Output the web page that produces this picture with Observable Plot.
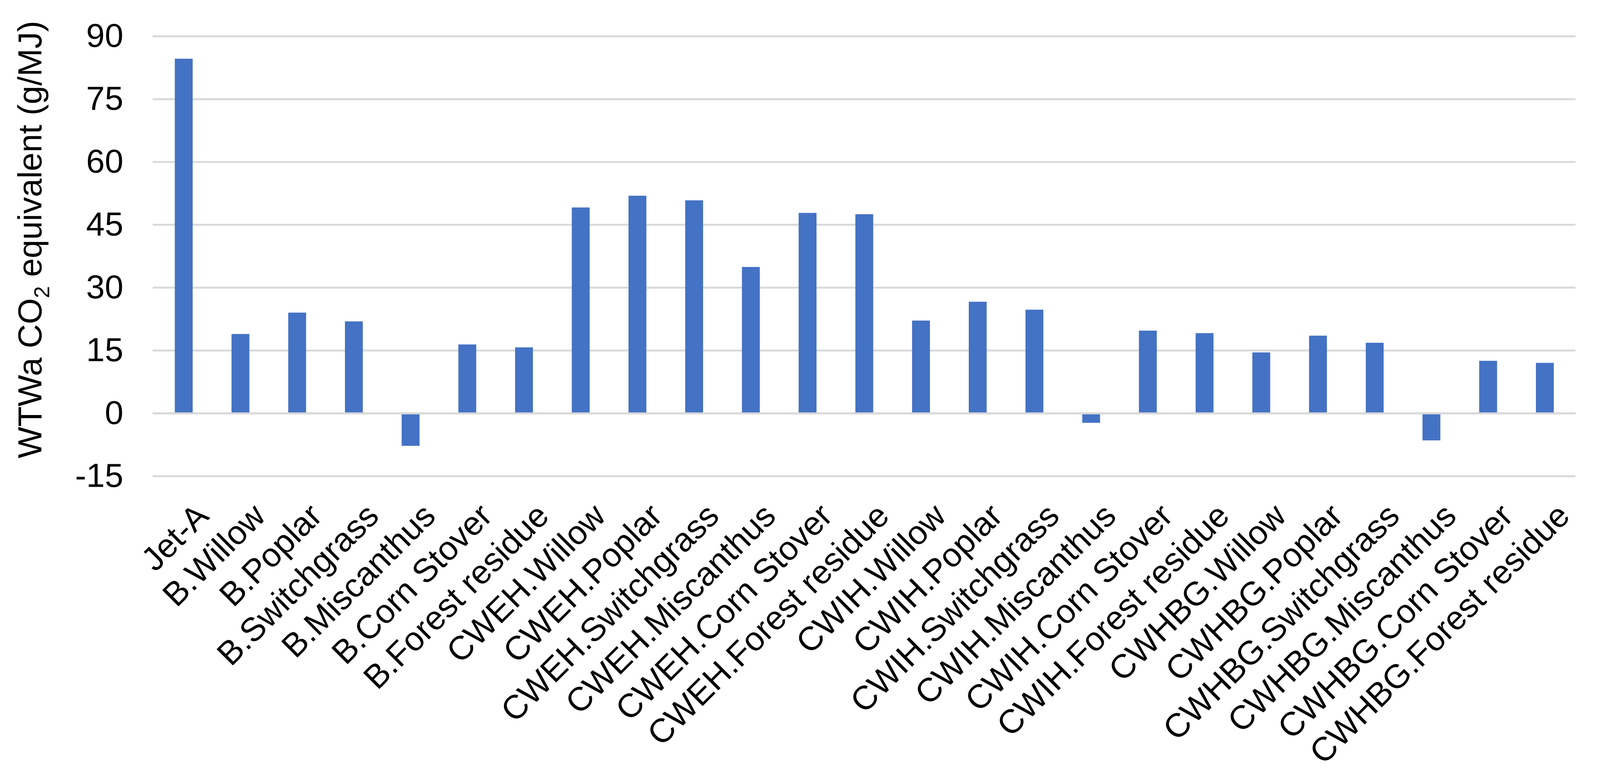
<!DOCTYPE html>
<html>
<head>
<meta charset="utf-8">
<script src="https://cdn.jsdelivr.net/npm/d3@7"></script>
<script src="https://cdn.jsdelivr.net/npm/@observablehq/plot@0.6"></script>
<style>
  html, body { margin: 0; padding: 0; background: #ffffff; }
  #chart svg { display: block; }
</style>
</head>
<body>
<div id="chart"></div>
<script>
// Categories (pathways) in display order
const categories = [
  "Jet-A",
  "B.Willow", "B.Poplar", "B.Switchgrass", "B.Miscanthus", "B.Corn Stover", "B.Forest residue",
  "CWEH.Willow", "CWEH.Poplar", "CWEH.Switchgrass", "CWEH.Miscanthus", "CWEH.Corn Stover", "CWEH.Forest residue",
  "CWIH.Willow", "CWIH.Poplar", "CWIH.Switchgrass", "CWIH.Miscanthus", "CWIH.Corn Stover", "CWIH.Forest residue",
  "CWHBG.Willow", "CWHBG.Poplar", "CWHBG.Switchgrass", "CWHBG.Miscanthus", "CWHBG.Corn Stover", "CWHBG.Forest residue"
];

// WTWa CO2 equivalent (g/MJ)
const values = [
  84.6,
  18.9, 24.0, 21.9, -7.8, 16.4, 15.7,
  49.1, 51.9, 50.8, 34.9, 47.8, 47.5,
  22.1, 26.6, 24.7, -2.3, 19.7, 19.1,
  14.5, 18.5, 16.8, -6.5, 12.5, 12.0
];

// Y axis tick values
const yTicks = [-15, 0, 15, 30, 45, 60, 75, 90];

const yTitleMain = "WTWa CO";
const yTitleSub = "2";
const yTitleRest = " equivalent (g/MJ)";

const data = categories.map((name, i) => ({name, value: values[i]}));

const W = 4119, H = 2008;
const FONT = "'Liberation Sans', Arial, Helvetica, sans-serif";
const BAR = "#4472C4";
const GRID = "#d9d9d9";

const chart = Plot.plot({
  width: W,
  height: H,
  marginLeft: 393,
  marginRight: 63,
  marginTop: 93,
  marginBottom: 782,
  style: {fontFamily: FONT, fontSize: "86px", color: "#000", background: "#fff"},
  x: {type: "band", domain: categories, paddingInner: 0.685, paddingOuter: 0.3425},
  y: {domain: [-15, 90], label: null},
  marks: [
    Plot.gridY(yTicks, {stroke: GRID, strokeOpacity: 1, strokeWidth: 5}),
    Plot.barY(data, {x: "name", y: "value", fill: BAR}),
    Plot.ruleY([0], {stroke: GRID, strokeWidth: 5}),
    Plot.axisY(yTicks, {
      tickSize: 0, tickPadding: 76, fontSize: 86, fill: "#000",
      tickFormat: d => String(d), label: null
    }),
    Plot.axisX({
      tickSize: 0, tickRotate: -45, tickPadding: 64, dx: 25,
      textAnchor: "end", lineAnchor: "top",
      fontSize: 86, fill: "#000", label: null
    })
  ]
});

document.getElementById("chart").appendChild(chart);

// Y axis title with a real subscript
const svg = d3.select(chart);
const t = svg.append("text")
  .attr("transform", "translate(107,617) rotate(-90)")
  .attr("text-anchor", "middle")
  .attr("font-family", FONT)
  .attr("font-size", 86)
  .attr("fill", "#000");
t.append("tspan").text(yTitleMain);
t.append("tspan").attr("font-size", 56).attr("dy", 20).text(yTitleSub);
t.append("tspan").attr("dy", -20).text(yTitleRest);
</script>
</body>
</html>
